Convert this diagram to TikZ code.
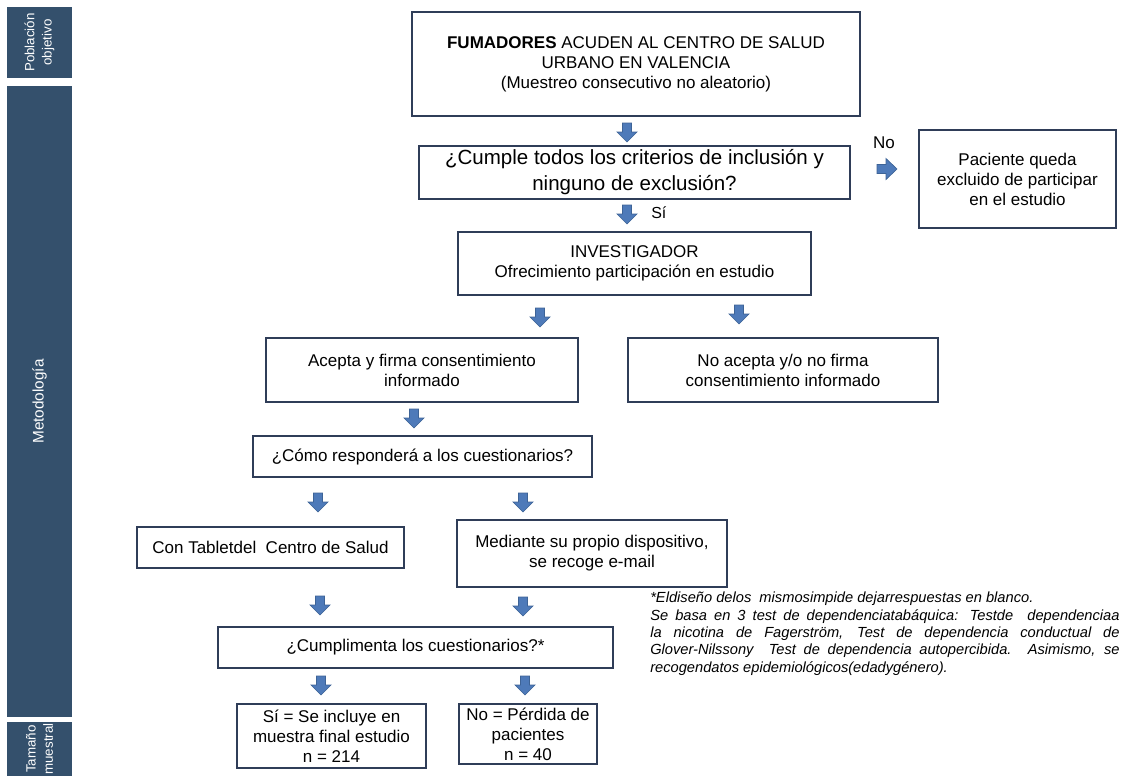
\documentclass[tikz,border=0pt]{standalone}
\usepackage{fontspec}
\setmainfont{Liberation Sans}
\definecolor{barc}{HTML}{34506C}
\definecolor{boxc}{HTML}{2F3D58}
\definecolor{arrf}{HTML}{4E7AB9}
\definecolor{arrd}{HTML}{3D6396}
\begin{document}
\begin{tikzpicture}[x=0.75pt,y=-0.75pt,
  box/.style={draw=boxc, line width=0.9pt, align=center, inner sep=0pt,
    font=\fontsize{12.75}{15}\selectfont},
  bar/.style={fill=barc, draw=none, text=white, align=center, inner sep=0pt, rotate=90,
    font=\fontsize{10}{13}\selectfont},
  lab/.style={inner sep=0pt, font=\fontsize{12}{14}\selectfont},
  pics/darrow/.style={code={\filldraw[fill=arrf, draw=arrd, line width=0.5pt]
     (-4.5,0) -- (4.5,0) -- (4.5,9) -- (10,9) -- (0,19) -- (-10,9) -- (-4.5,9) -- cycle;}},
  pics/rarrow/.style={code={\filldraw[fill=arrf, draw=arrd, line width=0.5pt]
     (0,-4.5) -- (9,-4.5) -- (9,-10.5) -- (20,0) -- (9,10.5) -- (9,4.5) -- (0,4.5) -- cycle;}}
]
\useasboundingbox (0,0) rectangle (1124,776);

% side bars
\node[bar, minimum width=53.25pt, minimum height=48.75pt] (b1) at (39.5,42.5) {Población\\objetivo};
\node[bar, minimum width=473.25pt, minimum height=48.75pt, font=\fontsize{11.5}{13}\selectfont] (b2) at (39.5,401.5) {Metodología};
\node[bar, minimum width=40.5pt, minimum height=48.75pt] (b3) at (39.5,749) {Tamaño\\muestral};

% boxes
\node[box, minimum width=336pt, minimum height=78pt] (top) at (636,64)
  {\textbf{FUMADORES} ACUDEN AL CENTRO DE SALUD\\URBANO EN VALENCIA\\(Muestreo consecutivo no aleatorio)};
\node[box, minimum width=323.25pt, minimum height=39.75pt, font=\fontsize{15.4}{19.5}\selectfont] (crit) at (634.5,172.5)
  {¿Cumple todos los criterios de inclusión y\\ninguno de exclusión?};
\node[box, minimum width=147.75pt, minimum height=73.5pt] (excl) at (1017.5,179)
  {Paciente queda\\excluido de participar\\en el estudio};
\node[box, minimum width=264.75pt, minimum height=47.25pt] (inv) at (634.5,263.5)
  {INVESTIGADOR\\Ofrecimiento participación en estudio};
\node[box, minimum width=234pt, minimum height=48pt] (acep) at (422,370)
  {Acepta y firma consentimiento\\informado};
\node[box, minimum width=232.5pt, minimum height=48pt] (noac) at (783,370)
  {No acepta y/o no firma\\consentimiento informado};
\node[box, minimum width=254.25pt, minimum height=30.75pt] (como) at (422.5,456.5)
  {¿Cómo responderá a los cuestionarios?};
\node[box, minimum width=200.25pt, minimum height=30.75pt] (tablet) at (270.5,547.5)
  {Con Tabletdel~ Centro de Salud};
\node[box, minimum width=202.5pt, minimum height=50.25pt] (medi) at (592,553.5)
  {Mediante su propio dispositivo,\\se recoge e-mail};
\node[box, minimum width=296.25pt, minimum height=30.75pt] (cumpl) at (415.5,647.5)
  {¿Cumplimenta los cuestionarios?*};
\node[box, minimum width=141.75pt, minimum height=48pt] (si) at (331.5,736)
  {Sí = Se incluye en\\muestra final estudio\\n = 214};
\node[box, minimum width=103.5pt, minimum height=45pt] (no) at (528,734)
  {No = Pérdida de\\pacientes\\n = 40};

% labels
\node[lab, anchor=west] (lsi) at (651,213) {Sí};
\node[lab, font=\fontsize{12.75}{15}\selectfont] (lno) at (884,143) {No};

% block arrows
\pic (a1) at (627,123) {darrow};
\pic (a2) at (627,205) {darrow};
\pic (ar) at (877,169) {rarrow};
\pic (a3) at (540,308) {darrow};
\pic (a4) at (739,305) {darrow};
\pic (a5) at (414,409) {darrow};
\pic (a6) at (318,493) {darrow};
\pic (a7) at (523,493) {darrow};
\pic (a8) at (320,596) {darrow};
\pic (a9) at (523,597) {darrow};
\pic (a10) at (321,676) {darrow};
\pic (a11) at (525,676) {darrow};

% footnote
\node[anchor=north west, inner sep=0pt, text width=352pt, align=justify,
  font=\fontsize{11}{13}\selectfont\itshape] (note) at (650,592)
  {*Eldiseño delos~ mismosimpide dejarrespuestas en blanco.\par
   Se basa en 3 test de dependenciatabáquica: Testde~ dependenciaa\linebreak
   la nicotina de Fagerström, Test de dependencia conductual de\linebreak
   Glover-Nilssony~ Test de dependencia autopercibida. Asimismo, se\linebreak
   recogendatos epidemiológicos(edadygénero).\par};
\end{tikzpicture}
\end{document}
